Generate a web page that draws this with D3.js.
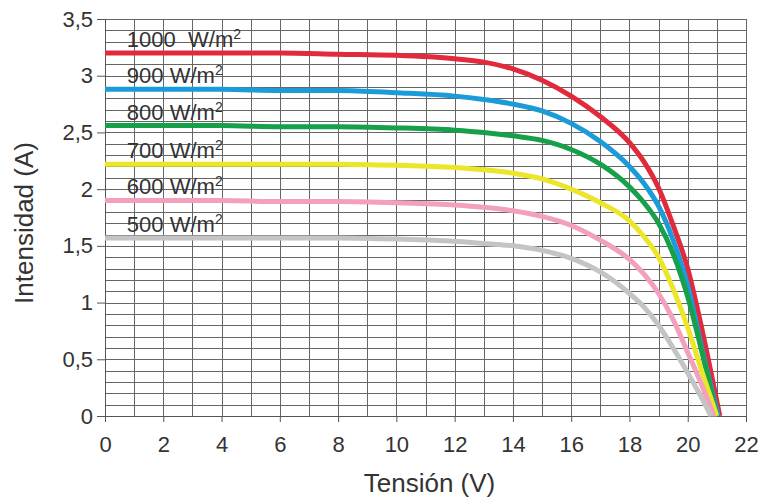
<!DOCTYPE html>
<html>
<head>
<meta charset="utf-8">
<script src="https://cdn.jsdelivr.net/npm/d3@7"></script>
<style>
  body { margin: 0; background: #fff; }
  text { font-family: "Liberation Sans", Arial, sans-serif; fill: #333; }
</style>
</head>
<body>
<div id="chart"></div>
<script>
var voltage = [0, 2, 4, 6, 8, 10, 12, 13, 14, 15, 16, 17, 18, 18.5, 19, 19.5, 20, 20.5];

// Current (A) for each irradiance, last point is the open-circuit voltage
var i1000 = [3.20, 3.20, 3.20, 3.20, 3.19, 3.18, 3.15, 3.12, 3.06, 2.96, 2.82, 2.64, 2.41, 2.24, 2.01, 1.68, 1.30, 0.75];
var i900  = [2.88, 2.88, 2.88, 2.87, 2.87, 2.85, 2.82, 2.79, 2.75, 2.69, 2.58, 2.42, 2.20, 2.05, 1.85, 1.55, 1.15, 0.58];
var i800  = [2.56, 2.56, 2.56, 2.55, 2.55, 2.54, 2.52, 2.50, 2.47, 2.43, 2.35, 2.22, 2.02, 1.88, 1.70, 1.43, 1.05, 0.55];
var i700  = [2.22, 2.22, 2.22, 2.22, 2.22, 2.21, 2.19, 2.17, 2.14, 2.09, 2.00, 1.88, 1.72, 1.58, 1.40, 1.12, 0.78, 0.38];
var i600  = [1.90, 1.90, 1.90, 1.89, 1.89, 1.88, 1.86, 1.84, 1.81, 1.76, 1.68, 1.55, 1.38, 1.25, 1.08, 0.85, 0.56, 0.26];
var i500  = [1.57, 1.57, 1.57, 1.57, 1.57, 1.56, 1.54, 1.52, 1.50, 1.46, 1.39, 1.27, 1.08, 0.96, 0.80, 0.60, 0.38, 0.15];
var vocs  = [21.1, 21.05, 21.0, 21.0, 20.9, 20.8];

var seriesNames = ["1000", "900", "800", "700", "600", "500"];
var seriesCurrents = [i1000, i900, i800, i700, i600, i500];
var seriesColors = ["#e12a3c", "#1b9bd7", "#16a04a", "#ece52a", "#f3a0bd", "#c4c4c4"];

var xTicks = d3.range(0, 23, 2);
var yTicks = [0, 0.5, 1, 1.5, 2, 2.5, 3, 3.5];

var svgWidth = 762;
var svgHeight = 500;
var margin = { top: 19, right: 16, bottom: 84, left: 105 };
var width = svgWidth - margin.left - margin.right;
var height = svgHeight - margin.top - margin.bottom;

var svg = d3.select("#chart")
  .append("svg")
  .attr("width", svgWidth)
  .attr("height", svgHeight);

var chartGroup = svg.append("g")
  .attr("transform", `translate(${margin.left}, ${margin.top})`);

var x = d3.scaleLinear().domain([0, 22]).range([0, width]);
var y = d3.scaleLinear().domain([0, 3.5]).range([height, 0]);

// grid: every volt and every 0.1 A
chartGroup.append("g")
  .selectAll("line")
  .data(d3.range(0, 36).map(d => d / 10))
  .enter()
  .append("line")
  .attr("x1", 0)
  .attr("x2", width)
  .attr("y1", d => Math.round(y(d)) + 0.5)
  .attr("y2", d => Math.round(y(d)) + 0.5)
  .attr("stroke", "#666")
  .attr("stroke-width", 1);

chartGroup.append("g")
  .selectAll("line")
  .data(d3.range(0, 23))
  .enter()
  .append("line")
  .attr("x1", d => Math.round(x(d)) + 0.5)
  .attr("x2", d => Math.round(x(d)) + 0.5)
  .attr("y1", 0)
  .attr("y2", height)
  .attr("stroke", "#666")
  .attr("stroke-width", 1);

// top border
chartGroup.append("line")
  .attr("x1", 0).attr("x2", width)
  .attr("y1", 0.5).attr("y2", 0.5)
  .attr("stroke", "#666");

// axes
var bottomAxis = d3.axisBottom(x).tickValues(xTicks).tickSize(6).tickPadding(8);
var leftAxis = d3.axisLeft(y).tickValues(yTicks).tickSize(8).tickPadding(4)
  .tickFormat(d => String(d).replace(".", ","));

var gx = chartGroup.append("g")
  .attr("transform", `translate(0, ${height})`)
  .call(bottomAxis);
var gy = chartGroup.append("g").call(leftAxis);

[gx, gy].forEach(function (g) {
  g.select(".domain").attr("stroke", "#555");
  g.selectAll(".tick line").attr("stroke", "#555");
  g.selectAll(".tick text")
    .attr("font-size", "22px")
    .attr("fill", "#333")
    .style("font-family", "'Liberation Sans', Arial, sans-serif");
});
gx.selectAll(".tick text").attr("dy", "1.0em");

// curves
var line = d3.line()
  .x(d => x(d[0]))
  .y(d => y(d[1]))
  .curve(d3.curveMonotoneX);

seriesCurrents.forEach(function (vals, i) {
  var pts = voltage.map((v, j) => [v, vals[j]]);
  pts.push([vocs[i], 0]);
  chartGroup.append("path")
    .datum(pts)
    .attr("fill", "none")
    .attr("stroke", seriesColors[i])
    .attr("stroke-width", 5)
    .attr("stroke-linejoin", "round")
    .attr("d", line);
});

// irradiance labels above each curve
seriesNames.forEach(function (name, i) {
  var lbl = chartGroup.append("text")
    .attr("x", x(0.75))
    .attr("y", y(seriesCurrents[i][0]) - 6)
    .attr("font-size", "22px");
  lbl.append("tspan").text(name + (i === 0 ? "\u00a0\u00a0" : " ") + "W/m");
  lbl.append("tspan").attr("font-size", "14px").attr("dy", "-8").text("2");
});

// axis titles
svg.append("text")
  .attr("x", margin.left + width / 2 + 4)
  .attr("y", 492)
  .attr("text-anchor", "middle")
  .attr("font-size", "26px")
  .text("Tensión (V)");

svg.append("text")
  .attr("transform", `translate(33, ${margin.top + 204}) rotate(-90)`)
  .attr("text-anchor", "middle")
  .attr("font-size", "26px")
  .text("Intensidad (A)");
</script>
</body>
</html>
